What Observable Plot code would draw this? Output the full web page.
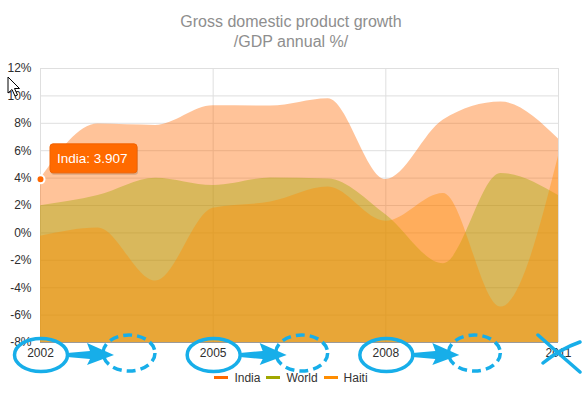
<!DOCTYPE html>
<html>
<head>
<meta charset="utf-8">
<script src="https://cdn.jsdelivr.net/npm/d3@7"></script>
<script src="https://cdn.jsdelivr.net/npm/@observablehq/plot@0.6"></script>
<style>
  html, body { margin: 0; padding: 0; background: #fff; }
  body { width: 582px; height: 399px; overflow: hidden; font-family: "Liberation Sans", Arial, sans-serif; }
  #wrap { position: relative; width: 582px; height: 399px; }
  #title { height: 60px; box-sizing: border-box; padding-top: 12px; text-align: center; font-size: 16px; line-height: 20px; color: #8e8e8e; }
  #legend { position: absolute; left: 0; top: 368px; width: 582px; text-align: center; font-size: 12px; line-height: 20px; color: #333; }
  .li { display: inline-block; margin: 0 3px; }
  .sw { display: inline-block; width: 14px; height: 3px; vertical-align: middle; margin-right: 6px; position: relative; top: -1px; }
</style>
</head>
<body>
<div id="wrap">
  <div id="title">Gross domestic product growth<br>/GDP annual %/</div>
  <div id="chart"></div>
  <div id="legend"></div>
</div>
<script>
const years = [2002, 2003, 2004, 2005, 2006, 2007, 2008, 2009, 2010, 2011];
const india = [3.907, 7.943, 7.848, 9.284, 9.263, 9.801, 3.890, 8.238, 9.552, 6.855];
const world = [1.988, 2.733, 3.994, 3.464, 4.001, 3.939, 1.333, -2.245, 4.339, 2.727];
const haiti = [-0.253, 0.362, -3.519, 1.799, 2.252, 3.343, 0.843, 2.877, -5.416, 5.590];
const seriesNames = ["India", "World", "Haiti"];
const seriesColors = ["#ff6800", "#a0a700", "#ff8d00"];
const xTicks = [2002, 2005, 2008, 2011];
const yTicks = [-8, -6, -4, -2, 0, 2, 4, 6, 8, 10, 12];

const seriesValues = [india, world, haiti];
const rows = seriesNames.map((name, s) => years.map((yr, i) => ({series: name, year: yr, value: seriesValues[s][i]})));

const marks = [
  Plot.gridY(yTicks, {stroke: "#dfdfdf", strokeOpacity: 1}),
  Plot.gridX(xTicks, {stroke: "#dfdfdf", strokeOpacity: 1}),
];
rows.forEach((data, s) => {
  marks.push(Plot.areaY(data, {x: "year", y1: -8, y2: "value", fill: seriesColors[s], fillOpacity: 0.4, curve: "monotone-x"}));
});
marks.push(Plot.ruleY([-8], {stroke: "#9a9a9a"}));
marks.push(Plot.axisX(xTicks, {tickSize: 0, tickPadding: 6, tickFormat: d => String(d), fontSize: 12, fill: "#2e2e2e", label: null}));
marks.push(Plot.axisY(yTicks, {tickSize: 0, tickPadding: 9, tickFormat: d => d + "%", fontSize: 12, fill: "#2e2e2e", label: null}));
marks.push(Plot.dot([rows[0][0]], {x: "year", y: "value", r: 4, fill: seriesColors[0], stroke: "white", strokeWidth: 2}));

const plot = Plot.plot({
  width: 582,
  height: 339,
  marginTop: 8,
  marginBottom: 57,
  marginLeft: 40,
  marginRight: 24,
  style: {fontFamily: "'Liberation Sans', Arial, sans-serif", fontSize: "12px", overflow: "visible", background: "transparent"},
  x: {domain: [2002, 2011], axis: null, label: null},
  y: {domain: [-8, 12], axis: null, label: null},
  marks
});
document.getElementById("chart").appendChild(plot);

// overlays positioned through the plot's own scales
const sx = plot.scale("x"), sy = plot.scale("y");
const svg = d3.select(plot);
const px = v => sx.apply(v), py = v => sy.apply(v);

// tooltip
const tx = px(years[0]) + 10, ty = py(india[0]) - 35;
const tip = svg.append("g");
tip.append("rect").attr("x", tx + 1).attr("y", ty + 2).attr("width", 87).attr("height", 29).attr("rx", 3).attr("fill", "rgba(0,0,0,0.15)");
tip.append("rect").attr("x", tx).attr("y", ty).attr("width", 87).attr("height", 29).attr("rx", 3)
  .attr("fill", "#ff6a00").attr("stroke", "#f26300").attr("stroke-width", 1);
tip.append("text").attr("x", tx + 7).attr("y", ty + 14.5).attr("dy", "0.35em").attr("text-anchor", "start")
  .attr("fill", "white").attr("font-size", "13.5px").text(seriesNames[0] + ": " + india[0]);

// blue annotations
const blue = "#17aee9";
const ann = svg.append("g").attr("fill", "none").attr("stroke", blue).attr("stroke-width", 3.5);
const ay = py(-8) + 13;
xTicks.slice(0, 3).forEach((t, i) => {
  const cx = px(t) + 1;
  ann.append("ellipse").attr("cx", cx).attr("cy", ay).attr("rx", 26.5).attr("ry", 16.5);
  ann.append("ellipse").attr("cx", cx + 88).attr("cy", ay - 2).attr("rx", 26).attr("ry", 18)
    .attr("stroke-dasharray", "9 5");
  const x0 = cx + 26, xb = cx + 49, xt = cx + 73;
  svg.append("path").attr("fill", blue)
    .attr("d", `M${x0},${ay - 2} L${xb},${ay - 4} L${xb - 3},${ay - 12} L${xt},${ay} L${xb - 3},${ay + 10} L${xb},${ay + 4} L${x0},${ay + 2} Z`);
});
const xe = px(2011);
ann.append("path").attr("stroke-linecap", "round").attr("d", `M${xe - 20},${ay - 20} Q${xe},${ay - 2} ${xe + 22},${ay + 17}`);
ann.append("path").attr("stroke-linecap", "round").attr("d", `M${xe - 15},${ay + 8} Q${xe + 2},${ay - 6} ${xe + 22},${ay - 13}`);

// mouse cursor
svg.append("path").attr("transform", "translate(8,17)")
  .attr("d", "M0,0 L0,16 L4,12.5 L7,19 L9.5,18 L6.5,11.5 L11.5,11.5 Z")
  .attr("fill", "white").attr("stroke", "black").attr("stroke-width", 1).attr("stroke-linejoin", "round");

// legend
const legend = d3.select("#legend");
seriesNames.forEach((n, i) => {
  const item = legend.append("span").attr("class", "li");
  item.append("span").attr("class", "sw").style("background", seriesColors[i]);
  item.append("span").text(n);
});
</script>
</body>
</html>
